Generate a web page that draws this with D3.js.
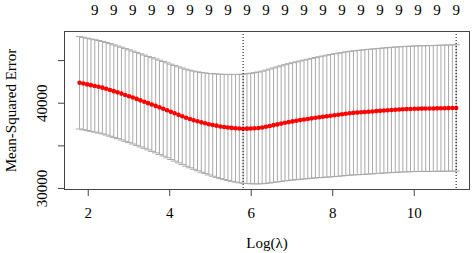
<!DOCTYPE html>
<html>
<head>
<meta charset="utf-8">
<script src="https://cdn.jsdelivr.net/npm/d3@7"></script>
<style>
  body { margin: 0; background: #fff; }
  svg { display: block; }
</style>
</head>
<body>
<div id="chart-area"></div>
<script>
const W = 472, H = 253;
const margin = { top: 31, right: 2, bottom: 63, left: 64 };
const FONT = "'Liberation Serif', 'DejaVu Serif', serif";

// log(lambda), left to right
const logLambda = [
  1.800, 1.893, 1.987, 2.080, 2.173, 2.267, 2.360, 2.453, 2.547, 2.640,
  2.733, 2.827, 2.920, 3.013, 3.107, 3.200, 3.293, 3.387, 3.480, 3.573,
  3.667, 3.760, 3.853, 3.947, 4.040, 4.133, 4.227, 4.320, 4.413, 4.507,
  4.600, 4.693, 4.787, 4.880, 4.973, 5.067, 5.160, 5.253, 5.347, 5.440,
  5.533, 5.627, 5.720, 5.813, 5.907, 6.000, 6.093, 6.187, 6.280, 6.373,
  6.467, 6.560, 6.653, 6.747, 6.840, 6.933, 7.027, 7.120, 7.213, 7.307,
  7.400, 7.493, 7.587, 7.680, 7.773, 7.867, 7.960, 8.053, 8.147, 8.240,
  8.333, 8.427, 8.520, 8.613, 8.707, 8.800, 8.893, 8.987, 9.080, 9.173,
  9.267, 9.360, 9.453, 9.547, 9.640, 9.733, 9.827, 9.920, 10.013, 10.107,
  10.200, 10.293, 10.387, 10.480, 10.573, 10.667, 10.760, 10.853, 10.947, 11.040
];

// cross-validated mean squared error
const cvm = [
  42340, 42250, 42150, 42060, 41970, 41870, 41770, 41640, 41500, 41360,
  41220, 41070, 40910, 40760, 40610, 40450, 40280, 40120, 39950, 39790,
  39630, 39460, 39290, 39110, 38930, 38760, 38580, 38410, 38240, 38090,
  37950, 37820, 37700, 37590, 37480, 37390, 37310, 37220, 37150, 37100,
  37050, 37000, 36970, 36950, 36960, 36980, 37000, 37040, 37100, 37180,
  37270, 37370, 37460, 37550, 37650, 37730, 37810, 37890, 37960, 38030,
  38100, 38170, 38240, 38300, 38360, 38420, 38480, 38540, 38590, 38650,
  38710, 38760, 38810, 38840, 38880, 38910, 38950, 38980, 39020, 39050,
  39090, 39120, 39150, 39180, 39210, 39230, 39250, 39270, 39290, 39300,
  39310, 39320, 39320, 39330, 39340, 39360, 39360, 39370, 39380, 39390
];

// standard error of cvm
const cvsd = [
  5420, 5420, 5420, 5420, 5420, 5420, 5420, 5430, 5430, 5430,
  5430, 5440, 5440, 5440, 5450, 5450, 5460, 5470, 5480, 5500,
  5510, 5530, 5550, 5570, 5590, 5610, 5630, 5660, 5690, 5720,
  5760, 5800, 5850, 5900, 5950, 6010, 6070, 6120, 6170, 6220,
  6270, 6310, 6360, 6400, 6440, 6480, 6520, 6560, 6600, 6640,
  6680, 6710, 6750, 6780, 6810, 6850, 6880, 6910, 6940, 6970,
  7000, 7030, 7060, 7090, 7120, 7150, 7180, 7200, 7220, 7230,
  7250, 7260, 7270, 7290, 7300, 7310, 7310, 7320, 7320, 7330,
  7330, 7340, 7340, 7350, 7350, 7350, 7360, 7360, 7360, 7370,
  7370, 7370, 7380, 7380, 7390, 7390, 7400, 7400, 7410, 7410
];

// number of nonzero coefficients
const nzero = [
  9, 9, 9, 9, 9, 9, 9, 9, 9, 9, 9, 9, 9, 9, 9, 9, 9, 9, 9, 9,
  9, 9, 9, 9, 9, 9, 9, 9, 9, 9, 9, 9, 9, 9, 9, 9, 9, 9, 9, 9,
  9, 9, 9, 9, 9, 9, 9, 9, 9, 9, 9, 9, 9, 9, 9, 9, 9, 9, 9, 9,
  9, 9, 9, 9, 9, 9, 9, 9, 9, 9, 9, 9, 9, 9, 9, 9, 9, 9, 9, 9,
  9, 9, 9, 9, 9, 9, 9, 9, 9, 9, 9, 9, 9, 9, 9, 9, 9, 9, 9, 9
];

const lambdaMinLog = 5.813;
const lambda1seLog = 11.040;

const xTicks = [2, 4, 6, 8, 10];
const yTicks = [30000, 35000, 40000, 45000];
const yLabels = [30000, 40000];

const data = logLambda.map((x, i) => ({
  x: x, m: cvm[i], up: cvm[i] + cvsd[i], lo: cvm[i] - cvsd[i], nz: nzero[i]
}));

const svg = d3.select("#chart-area").append("svg")
  .attr("width", W)
  .attr("height", H)
  .attr("font-family", FONT);

svg.append("rect").attr("width", W).attr("height", H).attr("fill", "#fff");

const x = d3.scaleLinear()
  .domain([1.418, 11.38])
  .range([margin.left, W - margin.right]);

const y = d3.scaleLinear()
  .domain([29765, 48412])
  .range([H - margin.bottom, margin.top]);

// error bars
const barw = (d3.max(logLambda) - d3.min(logLambda)) * 0.01;
const bars = svg.append("g")
  .attr("stroke", "#a9a9a9")
  .attr("stroke-width", 1)
  .attr("fill", "none");

bars.selectAll("line.v")
  .data(data)
  .enter().append("line")
  .attr("class", "v")
  .attr("x1", d => x(d.x)).attr("x2", d => x(d.x))
  .attr("y1", d => y(d.up)).attr("y2", d => y(d.lo));

bars.selectAll("line.cu")
  .data(data)
  .enter().append("line")
  .attr("class", "cu")
  .attr("x1", d => x(d.x - barw)).attr("x2", d => x(d.x + barw))
  .attr("y1", d => y(d.up)).attr("y2", d => y(d.up));

bars.selectAll("line.cl")
  .data(data)
  .enter().append("line")
  .attr("class", "cl")
  .attr("x1", d => x(d.x - barw)).attr("x2", d => x(d.x + barw))
  .attr("y1", d => y(d.lo)).attr("y2", d => y(d.lo));

// mean points
svg.append("g").selectAll("circle")
  .data(data)
  .enter().append("circle")
  .attr("cx", d => x(d.x))
  .attr("cy", d => y(d.m))
  .attr("r", 2.3)
  .attr("fill", "#ff0000");

// lambda.min and lambda.1se
svg.append("g").selectAll("line")
  .data([lambdaMinLog, lambda1seLog])
  .enter().append("line")
  .attr("x1", d => x(d)).attr("x2", d => x(d))
  .attr("y1", margin.top).attr("y2", H - margin.bottom)
  .attr("stroke", "#000")
  .attr("stroke-width", 1)
  .attr("stroke-dasharray", "1,2");

// box
svg.append("rect")
  .attr("x", margin.left + 0.5)
  .attr("y", margin.top + 0.5)
  .attr("width", W - margin.left - margin.right - 1)
  .attr("height", H - margin.top - margin.bottom - 1)
  .attr("fill", "none")
  .attr("stroke", "#444");

// axes
const xAxis = d3.axisBottom(x)
  .tickValues(xTicks)
  .tickSize(6)
  .tickPadding(11)
  .tickFormat(d3.format("d"));

const xAxisGroup = svg.append("g")
  .attr("transform", `translate(0,${H - margin.bottom})`)
  .call(xAxis)
  .attr("font-family", FONT)
  .attr("font-size", 15);
xAxisGroup.select(".domain").remove();
xAxisGroup.selectAll("line").attr("stroke", "#444");
xAxisGroup.selectAll("text").attr("fill", "#000");

const yAxis = d3.axisLeft(y)
  .tickValues(yTicks)
  .tickSize(6)
  .tickFormat(d => yLabels.includes(d) ? d : "");

const yAxisGroup = svg.append("g")
  .attr("transform", `translate(${margin.left},0)`)
  .call(yAxis)
  .attr("font-family", FONT)
  .attr("font-size", 15);
yAxisGroup.select(".domain").remove();
yAxisGroup.selectAll("line").attr("stroke", "#444");
yAxisGroup.selectAll("text")
  .attr("x", 0)
  .attr("dy", 0)
  .attr("transform", "translate(-17.5,0) rotate(-90)")
  .attr("text-anchor", "middle")
  .attr("fill", "#000");

// nonzero counts on top, every 5th point from the left
svg.append("g").selectAll("text")
  .data(data.filter((d, i) => (data.length - 1 - i) % 5 === 0))
  .enter().append("text")
  .attr("x", d => x(d.x))
  .attr("y", 14.5)
  .attr("text-anchor", "middle")
  .attr("font-size", 15)
  .text(d => d.nz);

// titles
svg.append("text")
  .attr("x", (margin.left + W - margin.right) / 2)
  .attr("y", 248)
  .attr("text-anchor", "middle")
  .attr("font-size", 15)
  .text("Log(λ)");

svg.append("text")
  .attr("transform", `translate(15.5,${(margin.top + H - margin.bottom) / 2}) rotate(-90)`)
  .attr("text-anchor", "middle")
  .attr("font-size", 15)
  .text("Mean-Squared Error");
</script>
</body>
</html>
